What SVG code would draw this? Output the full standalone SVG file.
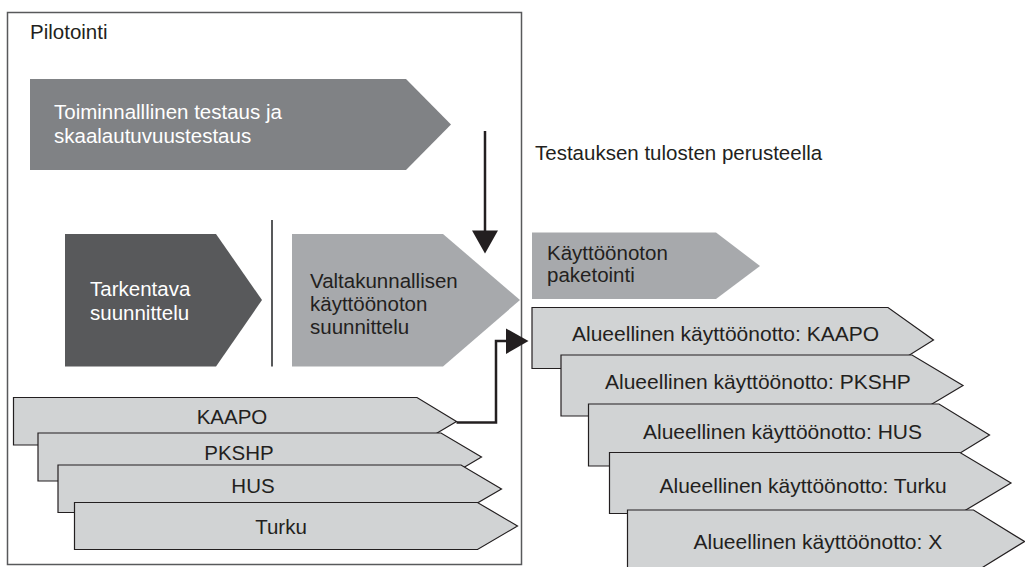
<svg xmlns="http://www.w3.org/2000/svg" width="1025" height="567" viewBox="0 0 1025 567">
  <style>
    text { font-family: "Liberation Sans", Arial, sans-serif; font-size: 20.5px; fill: #231f20; }
    .light { fill: #ffffff; }
    .mid { text-anchor: middle; }
    .roll { font-size: 21px; }
    .tag { fill: #d1d3d4; stroke: #231f20; stroke-width: 1.2; }
    .conn { fill: none; stroke: #231f20; stroke-width: 2.5; }
    .head { fill: #231f20; }
  </style>
  <rect width="1025" height="567" fill="#ffffff"/>

  <!-- pilot frame -->
  <g id="pilotointi">
    <rect x="7.5" y="12.5" width="514" height="552" fill="none" stroke="#58595b" stroke-width="1.5"/>
    <text x="30" y="39">Pilotointi</text>
  </g>

  <g id="testaus">
    <polygon points="30,79 406,79 451,124.5 406,170 30,170" fill="#808285"/>
    <text class="light" x="54" y="118.5">Toiminnalllinen testaus ja</text>
    <text class="light" x="54" y="142.5">skaalautuvuustestaus</text>
  </g>

  <g id="tarkentava">
    <polygon points="65,234 216,234 262,300 216,366.5 65,366.5" fill="#58595b"/>
    <text class="light" x="90" y="295.5">Tarkentava</text>
    <text class="light" x="90" y="320">suunnittelu</text>
  </g>

  <line id="divider" x1="272" y1="220" x2="272" y2="366.5" stroke="#58595b" stroke-width="2"/>

  <g id="valtakunnallinen">
    <polygon points="292,234 443,234 520,300 443,366.5 292,366.5" fill="#a7a9ac"/>
    <text x="310" y="288">Valtakunnallisen</text>
    <text x="310" y="310.5">käyttöönoton</text>
    <text x="310" y="334">suunnittelu</text>
  </g>

  <!-- regional pilots -->
  <g id="pilot-kaapo">
    <polygon class="tag" points="13.5,397.5 417,397.5 456.5,421.5 417,445 13.5,445"/>
    <text class="mid" x="232" y="423.5">KAAPO</text>
  </g>
  <g id="pilot-pkshp">
    <polygon class="tag" points="38,433 441,433 481.5,457 441,481 38,481"/>
    <text class="mid" x="239" y="459.5">PKSHP</text>
  </g>
  <g id="pilot-hus">
    <polygon class="tag" points="58,465 461,465 501.5,489 461,512.5 58,512.5"/>
    <text class="mid" x="253" y="492.5">HUS</text>
  </g>
  <g id="pilot-turku">
    <polygon class="tag" points="74.5,502.5 477.5,502.5 517.5,526 477.5,549.5 74.5,549.5"/>
    <text class="mid" x="281" y="534">Turku</text>
  </g>

  <text id="testauksen-tulosten" x="535" y="160">Testauksen tulosten perusteella</text>

  <g id="paketointi">
    <polygon points="532,232.5 716,232.5 760,266 716,299 532,299" fill="#a7a9ac"/>
    <text x="547" y="259.5">Käyttöönoton</text>
    <text x="547" y="282">paketointi</text>
  </g>

  <!-- regional rollouts -->
  <g id="rollout-kaapo">
    <polygon class="tag" points="532,307.5 888,307.5 933.5,340 888,368.5 532,368.5"/>
    <text class="roll" x="572" y="341">Alueellinen käyttöönotto: KAAPO</text>
  </g>
  <g id="rollout-pkshp">
    <polygon class="tag" points="561,355 912,355 963,385.5 912,416 561,416"/>
    <text class="roll" x="605" y="388.5">Alueellinen käyttöönotto: PKSHP</text>
  </g>
  <g id="rollout-hus">
    <polygon class="tag" points="588.5,404 939,404 989.5,435 939,466 588.5,466"/>
    <text class="roll" x="643" y="438.5">Alueellinen käyttöönotto: HUS</text>
  </g>
  <g id="rollout-turku">
    <polygon class="tag" points="609.5,452.5 960,452.5 1011,483 960,513.5 609.5,513.5"/>
    <text class="roll" x="659.5" y="492.5">Alueellinen käyttöönotto: Turku</text>
  </g>
  <g id="rollout-x">
    <polygon class="tag" points="627.5,510 973.5,510 1024.5,541.5 973.5,573 627.5,573"/>
    <text class="roll" x="693.5" y="549">Alueellinen käyttöönotto: X</text>
  </g>

  <!-- connectors -->
  <g id="connectors">
    <line class="conn" x1="485" y1="131" x2="485" y2="232"/>
    <polygon class="head" points="472,230.5 498,230.5 485,253.5"/>
    <polyline class="conn" points="456.5,422.5 496,422.5 496,341 508,341"/>
    <polygon class="head" points="506,328.5 528.5,341 506,354"/>
  </g>
</svg>
